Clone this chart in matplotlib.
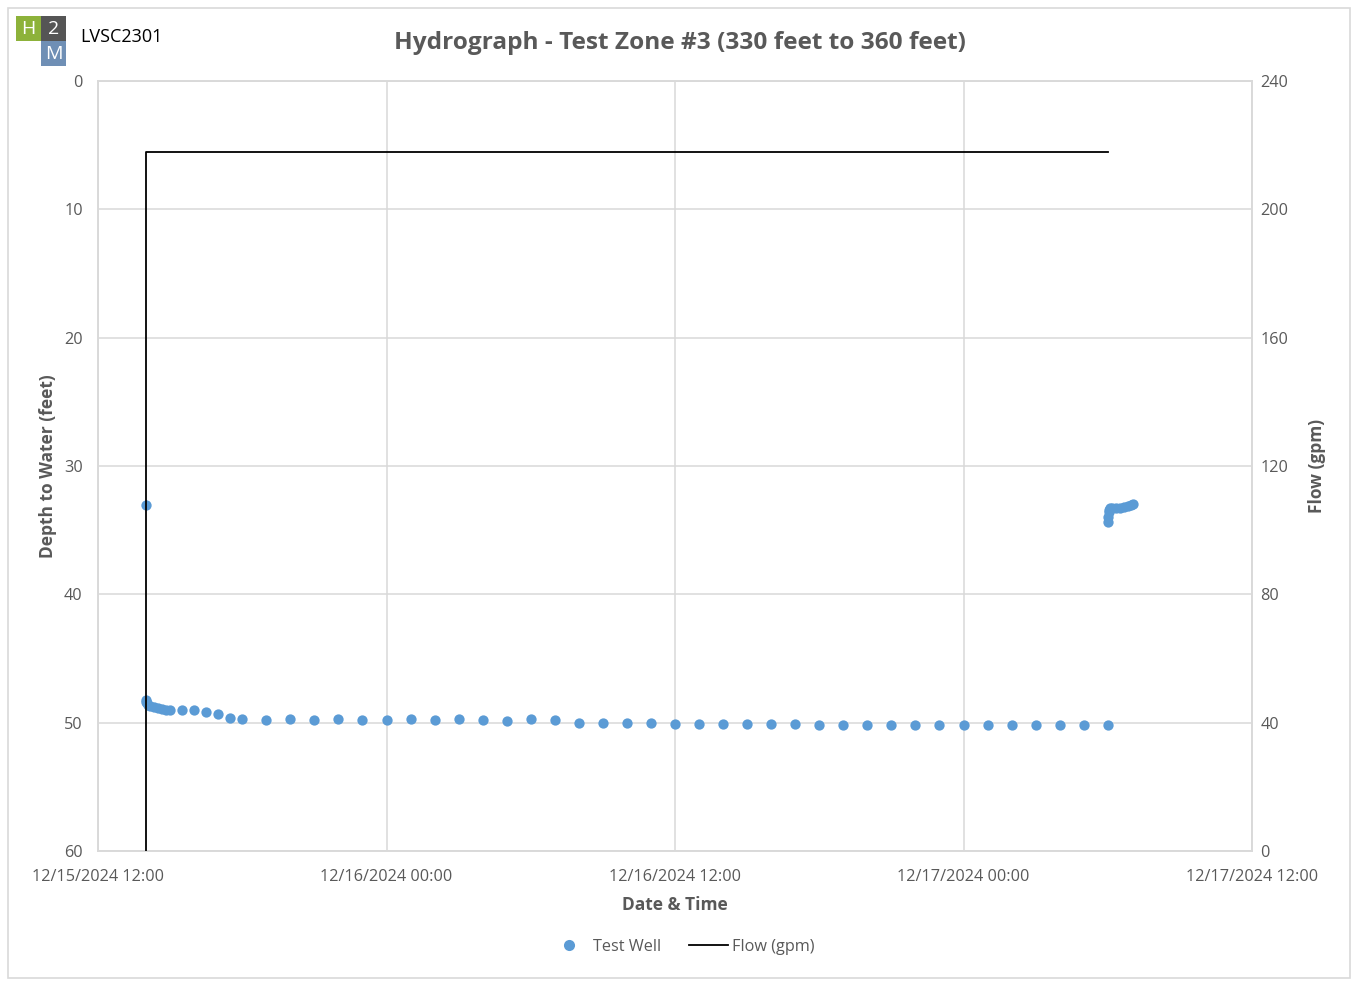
import matplotlib
matplotlib.use("Agg")
import matplotlib.pyplot as plt
import matplotlib.dates as mdates
from matplotlib.patches import Rectangle
from matplotlib.lines import Line2D
from datetime import datetime

plt.rcParams['font.family'] = ['Open Sans', 'DejaVu Sans']

# ---- data ----
well_times = [
    "2024-12-15 14:00", "2024-12-15 14:00", "2024-12-15 14:01", "2024-12-15 14:02",
    "2024-12-15 14:05", "2024-12-15 14:10", "2024-12-15 14:20", "2024-12-15 14:30",
    "2024-12-15 14:40", "2024-12-15 14:50", "2024-12-15 15:00", "2024-12-15 15:30",
    "2024-12-15 16:00", "2024-12-15 16:30", "2024-12-15 17:00", "2024-12-15 17:30",
    "2024-12-15 18:00", "2024-12-15 19:00", "2024-12-15 20:00", "2024-12-15 21:00",
    "2024-12-15 22:00", "2024-12-15 23:00", "2024-12-16 00:00", "2024-12-16 01:00",
    "2024-12-16 02:00", "2024-12-16 03:00", "2024-12-16 04:00", "2024-12-16 05:00",
    "2024-12-16 06:00", "2024-12-16 07:00", "2024-12-16 08:00", "2024-12-16 09:00",
    "2024-12-16 10:00", "2024-12-16 11:00", "2024-12-16 12:00", "2024-12-16 13:00",
    "2024-12-16 14:00", "2024-12-16 15:00", "2024-12-16 16:00", "2024-12-16 17:00",
    "2024-12-16 18:00", "2024-12-16 19:00", "2024-12-16 20:00", "2024-12-16 21:00",
    "2024-12-16 22:00", "2024-12-16 23:00", "2024-12-17 00:00", "2024-12-17 01:00",
    "2024-12-17 02:00", "2024-12-17 03:00", "2024-12-17 04:00", "2024-12-17 05:00",
    "2024-12-17 06:00",
    "2024-12-17 06:00", "2024-12-17 06:01", "2024-12-17 06:02", "2024-12-17 06:03",
    "2024-12-17 06:05", "2024-12-17 06:10", "2024-12-17 06:20", "2024-12-17 06:30",
    "2024-12-17 06:40", "2024-12-17 06:50", "2024-12-17 06:58", "2024-12-17 07:03",
]
well_depth = [
    33.0, 48.2, 48.4, 48.5,
    48.6, 48.7, 48.8, 48.85,
    48.9, 49.0, 49.0, 49.0,
    49.05, 49.2, 49.3, 49.6,
    49.7, 49.8, 49.7, 49.8,
    49.7, 49.8, 49.8, 49.75,
    49.8, 49.7, 49.8, 49.9,
    49.75, 49.8, 50.0, 50.05,
    50.05, 50.05, 50.1, 50.1,
    50.1, 50.1, 50.1, 50.1,
    50.2, 50.2, 50.2, 50.2,
    50.2, 50.2, 50.2, 50.2,
    50.2, 50.2, 50.2, 50.2,
    50.2,
    34.4, 34.0, 33.6, 33.4,
    33.3, 33.3, 33.3, 33.25,
    33.2, 33.1, 33.0, 32.95,
]
flow_times = ["2024-12-15 14:00", "2024-12-15 14:00", "2024-12-17 06:00"]
flow_gpm = [0, 218, 218]

x_ticks = ["2024-12-15 12:00", "2024-12-16 00:00", "2024-12-16 12:00",
           "2024-12-17 00:00", "2024-12-17 12:00"]
depth_ticks = [0, 10, 20, 30, 40, 50, 60]
flow_ticks = [0, 40, 80, 120, 160, 200, 240]

fmt = "%Y-%m-%d %H:%M"
to_dt = lambda L: [datetime.strptime(s, fmt) for s in L]

W, H = 1354, 981
fig = plt.figure(figsize=(W / 100, H / 100), dpi=100)
fig.patch.set_facecolor("white")

# border
fig.patches.append(Rectangle((8 / W, 1 - 978 / H), (1350 - 8) / W, (978 - 8) / H,
                             transform=fig.transFigure, fill=False,
                             edgecolor="#D9D9D9", lw=1.2))

AW = 1252 - 98
AH = 851 - 81
ax = fig.add_axes([98 / W, 1 - 851 / H, AW / W, AH / H])
ax2 = ax.twinx()

grid_c = "#D9D9D9"
txt_c = "#595959"

ax.scatter(to_dt(well_times), well_depth, s=55, color="#5B9BD5", zorder=3,
           linewidths=0, clip_on=False)
ax2.plot(to_dt(flow_times), flow_gpm, color="black", lw=1.3, zorder=3)

ax.set_ylim(60, 0)
ax.set_yticks(depth_ticks)
ax2.set_ylim(0, 240)
ax2.set_yticks(flow_ticks)

xt = to_dt(x_ticks)
ax.set_xlim(xt[0], xt[-1])
ax.set_xticks(xt)
ax.xaxis.set_major_formatter(mdates.DateFormatter("%m/%d/%Y %H:%M"))

ax.grid(True, color=grid_c, lw=1.1, zorder=0)
ax.set_axisbelow(True)
for a in (ax, ax2):
    for sp in a.spines.values():
        sp.set_color(grid_c)
        sp.set_linewidth(1.1)
    a.tick_params(length=0, colors=txt_c, labelsize=11.7)
ax.tick_params(axis="x", pad=13)
ax.tick_params(axis="y", pad=11)
ax2.tick_params(axis="y", pad=6)
ax.zorder = 2
ax2.zorder = 3
ax.patch.set_visible(False)

ax.set_ylabel("Depth to Water (feet)", fontsize=12.5, fontweight="bold",
              color=txt_c)
ax2.set_ylabel("Flow (gpm)", fontsize=12.5, fontweight="bold", color=txt_c)
ax.yaxis.set_label_coords(-41 / AW, 0.5)
ax2.yaxis.set_label_coords(1 + 56 / AW, 0.5)
ax.set_xlabel("Date & Time", fontsize=12.5, fontweight="bold", color=txt_c)
ax.xaxis.set_label_coords(0.5, -(903 - 851 - 7) / AH)

fig.text(680 / W, 1 - 43 / H, "Hydrograph - Test Zone #3 (330 feet to 360 feet)",
         ha="center", va="center", fontsize=17.6, fontweight="bold", color=txt_c)

# logo
def box(x0, y0, c, t):
    fig.patches.append(Rectangle((x0 / W, 1 - (y0 + 25) / H), 25 / W, 25 / H,
                                 transform=fig.transFigure, color=c, lw=0))
    fig.text((x0 + 12.5) / W, 1 - (y0 + 13) / H, t, ha="center", va="center",
             color="white", fontsize=14)
box(16, 16, "#8DB23A", "H")
box(41, 16, "#555555", "2")
box(41, 41, "#6F8FB5", "M")
fig.text(80 / W, 1 - 37 / H, "LVSC2301", ha="left", va="center", fontsize=13,
         color="black")

# legend
h1 = Line2D([], [], marker="o", ls="none", color="#5B9BD5", markersize=8,
            markeredgewidth=0)
h2 = Line2D([], [], color="black", lw=1.3)
fig.legend([h1, h2], ["Test Well", "Flow (gpm)"], loc="center",
           bbox_to_anchor=(682 / W, 1 - 947 / H), ncol=2, frameon=False,
           fontsize=11.7, labelcolor=txt_c, handlelength=2.4, columnspacing=1.7,
           handletextpad=0.25)

fig.savefig("out.png", dpi=100)
